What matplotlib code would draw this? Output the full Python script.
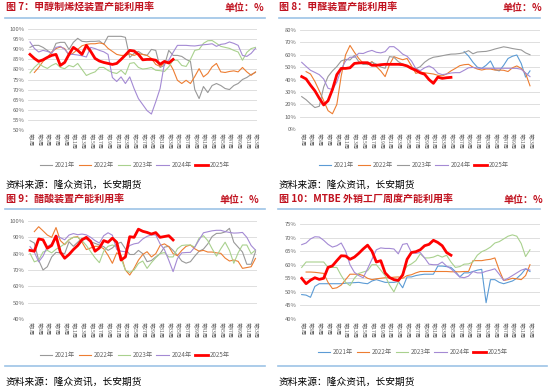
import numpy as np
import matplotlib
matplotlib.use("Agg")
import matplotlib.pyplot as plt
from matplotlib.lines import Line2D

plt.rcParams['font.family'] = ['Noto Sans CJK SC', 'DejaVu Sans']

# x axis: weekly categories, every other week labelled
tick_weeks = list(range(1, 54, 2))
week_labels = [f"第{w}周" for w in tick_weeks]
years = ['2021年', '2022年', '2023年', '2024年', '2025年']

# 图7 甲醇制烯烃 (%)
mto_2021 = [91, 92, 92, 91, 89.5, 88, 93, 93.5, 93.5, 90, 93.5, 95.5, 94, 93.8, 94, 94, 94.2, 92.5, 96.5, 96.5,
            96.5, 96.5, 96, 86, 88, 89, 87.5, 87, 90, 89.5, 81, 82, 89.5, 87, 87, 86.5, 85, 84, 70, 65.5,
            71.5, 68.5, 72, 73, 72, 70.5, 70, 72, 73, 75, 76, 77.5, 78.5]
mto_2022 = [None, 78.5, 81, 84, 86, 88.7, 90.4, 91.2, 90.4, 87, 88.2, 90, 91.8, 92.5, 92.8, 92.8, 93.2, 92.8, 90.5, 89,
            87.5, 87, 87, 87.8, 87, 87.8, 87.5, 87, 85.5, 82.5, 81.5, 83, 83.8, 80, 74.6, 73, 74.6, 73, 76.5, 80.4,
            76.3, 78, 81.3, 83, 78.8, 78.5, 79, 79.3, 78.8, 81, 78.8, 77.1, 78.8]
mto_2023 = [78.3, 81, 83, 81.5, 80.5, 82, 83, 81, 80.4, 82, 81.3, 83, 80, 77, 78, 78.8, 81, 81, 79.5, 78.5,
            78, 79.6, 77.5, 83, 83.4, 81, 80.2, 80.5, 81, 79.6, 79.4, 79, 81.3, 84.6, 84.6, 82, 81.5, 85, 89.5, 90,
            93, 94.3, 94.4, 93, 91.5, 91, 90.5, 89.5, 88.7, 84.6, 88.5, 90.4, 91]
mto_2024 = [93.7, 90.5, 88.7, 89.5, 89, 88.2, 91, 91.5, 90, 87.5, 87.5, 87.2, 86.8, 86.2, 91, 90.4, 89.5, 88.8, 87.5, 76,
            74, 76.3, 73, 76.3, 70.5, 65.5, 62.5, 59.5, 57.8, 63.9, 70.5, 83, 84.6, 88.5, 92, 92, 92, 91.8, 91.7, 92,
            92.3, 92.5, 92.8, 91.5, 92.5, 92.8, 93.7, 93, 92, 87, 86.5, 88, 90.5]
mto_2025 = [87.5, 85.5, 84, 84.8, 86, 87, 87.5, 82, 83.5, 87.5, 91, 89.5, 87.5, 92, 89, 85.5, 84.2, 83.5, 83, 82.5,
            83, 85, 87.2, 89.5, 89.2, 87.5, 84.8, 85, 85, 84.6, 82.6, 84, 83.2, 85]

# 图8 甲醛 (%)
fa_2021 = [None] * 37 + [62.5, 59, 54, 50, 49, 51.5, 55, 48, 47, 51.5, 57, 58.8, 59.8, 53, 42, 47]
fa_2022 = [None, 46.4, 44.5, 38.5, 31, 23, 15, 12.5, 20, 43, 60, 67.5, 62, 57, 53.1, 52, 54.5, 50.5, 47, 42.4,
           52, 58.5, 57.1, 56, 57, 51, 45, 46, 45.5, 45, 44.5, 43.5, 43, 44.5, 47, 49, 51.2, 52, 52.3, 50,
           48.5, 47.7, 48.5, 48.5, 47.7, 47.7, 47.5, 46.5, 49.5, 51, 49, 45, 35]
fa_2023 = [26.3, 23.8, 20.5, 17.5, 18.5, 34, 42.5, 47, 50.5, 55, 56.3, 55.8, 59.5, 54.5, 52.2, 52.5, 54, 52.5, 50.2, 49.1,
           58.5, 58, 54.5, 52.4, 51.2, 49.8, 48.7, 50.4, 54, 56.5, 58, 58.5, 59.2, 59.9, 60.5, 60.6, 61, 61.7, 63.3, 60.8,
           62.2, 62.5, 62.7, 63.5, 64.6, 65.5, 66.4, 65.8, 65, 64.4, 63.9, 61.5, 60]
fa_2024 = [53.9, 50.6, 47.5, 45.8, 44, 40.5, 33, 32, 38, 48.5, 55, 58, 58, 61.2, 61, 62.5, 63.5, 62, 61.5, 62.5,
           66.5, 66.5, 63.8, 60.5, 58.8, 55, 48.8, 47.2, 49.5, 51, 49.1, 45.2, 44, 44.5, 45.3, 45.6, 45.6, 47.5, 49.5, 49.8,
           49.3, 49.1, 49.1, 49.1, 49.1, 49.1, 49.1, 49.1, 49.1, 49, 48.3, 45.3, 42.4]
fa_2025 = [42.4, 40.5, 35.5, 31, 25, 19.6, 23, 32, 44, 49, 49, 49.5, 53, 53.4, 53.6, 53.6, 51.5, 51.5, 52, 52.3,
           52.3, 52.3, 52.3, 52, 51, 49, 47.5, 45.5, 44.3, 40, 37, 42, 41, 41.5, 41.8]

# 图9 醋酸 (%)
aa_2021 = [88, 86.5, 76, 70, 72, 78, 80.8, 80.5, 80, 87.3, 84.5, 87, 89.4, 89, 87.3, 86.3, 85.3, 84.3, 82, 83.5,
           86, 87, 83, 79.5, 79.5, 82, 80, 75.1, 75.8, 78, 80, 84, 84.5, 82, 79, 75.5, 74.2, 75.1, 78.5, 81.5,
           82.8, 86, 90.5, 92.4, 92.5, 93.3, 95.5, 87, 84, 81, 73.5, 73.5, 81.2]
aa_2022 = [None, 93.5, 96.5, 94, 91.4, 90, 96, 88, 85.5, 88.5, 90, 90.4, 87, 82.5, 83.5, 84.5, 84.5, 83, 79, 74.1,
           80.5, 79, 70, 66.9, 71, 76, 79.5, 81.2, 78, 80, 85, 86, 84.3, 80, 78.8, 82, 84.5, 85.3, 83, 81.5,
           82, 81, 81, 80.5, 80.2, 77.3, 75.5, 76.1, 75.3, 71, 71.5, 72, 77.1]
aa_2023 = [80.2, 75, 76, 81, 82, 80.5, 82.7, 84.2, 86, 88.5, 90, 90, 88, 85, 81.2, 77.5, 74.5, 81.5, 84.5, 85.3,
           84.5, 77, 70, 68.5, 70, 74, 75.5, 71, 74.5, 77.5, 80, 80.7, 78, 78, 83, 85, 85.3, 85.3, 84, 89.5,
           91, 88, 83, 78.5, 83, 87, 82, 74.1, 80.5, 85.3, 85.3, 80, 82.2]
aa_2024 = [84.3, 81, 75, 78.5, 84.3, 86, 91, 89.8, 88.5, 91.4, 92.3, 91.6, 92, 91.5, 90, 88, 86.5, 91, 92.8, 91.3,
           82.5, 81.5, 81.2, 85, 86, 86.5, 89, 90.6, 91.5, 91.5, 86, 82.5, 76, 69, 77, 80.5, 80.7, 80.8, 84, 88.4,
           92.8, 93.4, 94, 94.3, 94.3, 93.5, 93, 92.6, 92.7, 93, 90, 85, 82.2]
aa_2025 = [82, 81.5, 89, 88.5, 83.3, 85, 90.8, 81, 77.2, 79.5, 82.5, 85, 88.5, 90, 87.5, 81.5, 83.5, 88, 87, 89.5,
           87, 76.1, 78, 90.4, 90, 95, 93.7, 93, 92, 92.9, 90, 90.5, 91, 88.4]

# 图10 MTBE 外销 (%)
mt_2021 = [49, 48.8, 48, 52, 53, 53, 53, 53, 53, 53, 53.2, 53.3, 53.4, 53.5, 53.2, 53, 54, 54.5, 54, 53.5,
           53.5, 53.5, 53.8, 51.5, 55.5, 55.5, 56, 56.3, 56.5, 56.5, 56.5, 59.5, 59.5, 59.3, 59, 57.5, 55.5, 57, 57, 57.5,
           58, 58.3, 46, 54.5, 54.5, 53.5, 53, 53.5, 54, 55, 56.5, 58.5, 57.5]
mt_2022 = [None, 57.3, 57.3, 57.2, 57, 56.8, 53.5, 51.2, 51.5, 52.5, 54.5, 56.5, 56.5, 56.5, 56, 55, 54.5, 54.8, 55, 55.2,
           55.2, 55.4, 55.5, 55, 56, 56.3, 57, 57.5, 57.5, 57.5, 57.5, 57.5, 57.5, 57.5, 57.4, 57.4, 57.4, 57.5, 57.5, 61.5,
           61.5, 61.5, 61.8, 62, 62.5, 58, 54.2, 54.5, 55, 54.8, 54.5, 56, 60]
mt_2023 = [59, 61, 61, 61, 61, 61, 59, 59, 59, 56, 53.5, 52.3, 55, 56.8, 57.3, 57.8, 60, 60, 58, 56,
           52.5, 50, 53.5, 57, 59.5, 60.3, 61.5, 64, 62.5, 62.5, 62.8, 63.5, 62.8, 63.5, 61, 59, 59.3, 60.2, 60.3, 61,
           63.5, 64.8, 65.5, 66.5, 68, 68.5, 69.5, 70.5, 71, 70.5, 67.8, 63, 65.5]
mt_2024 = [67.4, 68, 69.5, 70.3, 70.2, 69, 67.5, 66.5, 67, 68, 65, 60, 57.2, 56, 55.2, 58.5, 62, 65.5, 66.2, 66,
           66, 65.8, 64, 67.5, 67.8, 64.5, 64.2, 64.5, 62.5, 60.2, 60, 60, 61, 59.5, 58.5, 57, 55.5, 55.2, 55.8, 57.5,
           57, 57, 57.6, 58, 58.5, 56.5, 54.2, 55, 56, 57, 58, 58.5, 58]
mt_2025 = [55, 53, 54.3, 55.2, 54.6, 55, 59, 59.6, 61.5, 63.3, 63.2, 62, 62.8, 64.2, 65.8, 67.2, 65, 61, 61.5, 57,
           55.3, 54.5, 54.2, 56.2, 62, 64.5, 64.8, 65.5, 67, 67.5, 69, 68.2, 67, 64.5, 63.5]

GRAY, ORANGE, GREEN, PURPLE, BLUE, RED = '#999999', '#ED7D31', '#A9D18E', '#A48AD4', '#5B9BD5', '#FF0000'
TITLE_RED = '#C0121F'
RULE_BLUE = '#9DC3E6'
TXT = '#666666'

W, H = 550, 389
fig = plt.figure(figsize=(W / 100, H / 100), dpi=100)


def box(l, t, r, b):
    return [l / W, 1 - b / H, (r - l) / W, (b - t) / H]


def chart(rect, xlim, ylim, yticks, series, colors, legend_xy):
    ax = fig.add_axes(rect)
    for name, vals, c in zip(years, series, colors):
        y = np.array([np.nan if v is None else v for v in vals], dtype=float)
        x = np.arange(1, len(y) + 1)
        ax.plot(x, y, color=c, lw=2.0 if name == '2025年' else 0.8, label=name)
    ax.set_xlim(*xlim)
    ax.set_ylim(*ylim)
    ax.set_yticks(yticks)
    ax.set_yticklabels([f"{t}%" for t in yticks], fontsize=4.2, color=TXT)
    ax.set_xticks(tick_weeks)
    ax.set_xticklabels(week_labels, rotation=-90, fontsize=3.7, color=TXT)
    ax.tick_params(length=0, pad=2.5)
    ax.grid(axis='y', color='#D9D9D9', lw=0.6)
    ax.set_axisbelow(True)
    for s in ax.spines.values():
        s.set_visible(False)
    ax.legend(loc='center', bbox_to_anchor=(legend_xy[0] / W, 1 - legend_xy[1] / H),
              bbox_transform=fig.transFigure, ncol=5, frameon=False, fontsize=4.5,
              handlelength=2.0, columnspacing=0.6, handletextpad=0.4, labelcolor=TXT)
    return ax


def header(x0, x1, y, title):
    fig.text(x0 / W, 1 - y / H, title, fontsize=7.2, fontweight='bold', color=TITLE_RED, va='center')
    fig.text(x1 / W, 1 - y / H, "单位：%", fontsize=7.2, fontweight='bold', color=TITLE_RED,
             va='center', ha='right')


def rule(x0, x1, y):
    fig.add_artist(Line2D([x0 / W, x1 / W], [1 - y / H, 1 - y / H], color=RULE_BLUE, lw=1.2))


def source(x, y):
    fig.text(x / W, 1 - y / H, "资料来源：隆众资讯，长安期货", fontsize=7, color='black', va='center')


# top-left
header(6, 264, 8, "图 7：甲醇制烯烃装置产能利用率")
rule(5, 265, 18.3)
chart(box(28, 29.3, 257, 129.7), (0.54, 53.35), (50, 100), list(range(50, 101, 5)),
      [mto_2021, mto_2022, mto_2023, mto_2024, mto_2025], [GRAY, ORANGE, GREEN, PURPLE, RED], (135, 165))
source(6, 185)

# top-right
header(279, 542, 8, "图 8：甲醛装置产能利用率")
rule(279, 540, 18.3)
chart(box(300, 29.9, 540, 129.3), (0.61, 55.28), (0, 80), list(range(0, 81, 10)),
      [fa_2021, fa_2022, fa_2023, fa_2024, fa_2025], [BLUE, ORANGE, GRAY, PURPLE, RED], (414, 165))
source(279, 185)

# bottom-left
header(6, 259, 200, "图 9：醋酸装置产能利用率")
rule(5, 265, 209.3)
chart(box(28, 221, 257, 319), (0.54, 53.35), (40, 100), list(range(40, 101, 10)),
      [aa_2021, aa_2022, aa_2023, aa_2024, aa_2025], [GRAY, ORANGE, GREEN, PURPLE, RED], (135, 355))
rule(5, 265, 365.7)
source(6, 381.7)

# bottom-right
header(279, 543, 200, "图 10：MTBE 外销工厂周度产能利用率")
rule(278, 540, 209.3)
chart(box(300, 224, 540, 319), (0.61, 55.28), (40, 75), list(range(40, 76, 5)),
      [mt_2021, mt_2022, mt_2023, mt_2024, mt_2025], [BLUE, ORANGE, GREEN, PURPLE, RED], (413, 352))
rule(278, 547, 365.7)
source(279, 381.7)

fig.savefig("out.png", dpi=100)
